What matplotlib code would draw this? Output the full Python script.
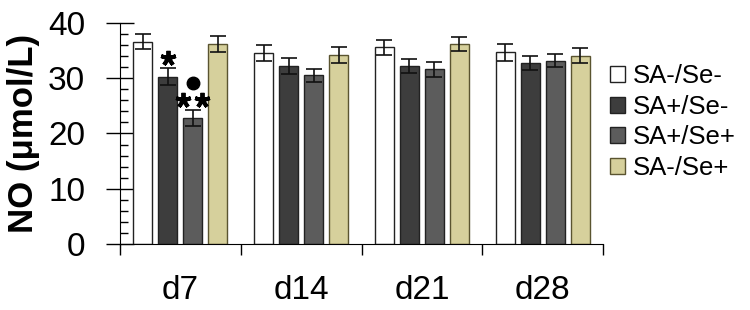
import numpy as np
import matplotlib.pyplot as plt

plt.rcParams.update({
    "font.family": ["Liberation Sans", "DejaVu Sans"],
})

days = ['d7', 'd14', 'd21', 'd28']
groups = ['SA-/Se-', 'SA+/Se-', 'SA+/Se+', 'SA-/Se+']
means = {
    'SA-/Se-': [36.6, 34.6, 35.6, 34.7],
    'SA+/Se-': [30.3, 32.2, 32.2, 32.7],
    'SA+/Se+': [22.8, 30.5, 31.6, 33.2],
    'SA-/Se+': [36.2, 34.2, 36.2, 34.1],
}
errs = {
    'SA-/Se-': [1.4, 1.4, 1.4, 1.5],
    'SA+/Se-': [1.6, 1.4, 1.3, 1.3],
    'SA+/Se+': [1.4, 1.2, 1.3, 1.2],
    'SA-/Se+': [1.4, 1.4, 1.2, 1.3],
}
colors = ['#ffffff', '#3d3d3d', '#5c5c5c', '#d6d09c']
edges = ['#222222', '#222222', '#222222', '#5a5430']

fig = plt.figure(figsize=(7.5, 3.1), dpi=100)
ax = fig.add_axes([0.16, 0.213, 0.644, 0.713])

x = np.arange(len(days))
w = 0.157
step = 0.207
for i, g in enumerate(groups):
    xs = x + (i - 1.5) * step
    ax.bar(xs, means[g], w, color=colors[i], edgecolor=edges[i], lw=1.0,
           label=g, zorder=2)
    ax.errorbar(xs, means[g], yerr=errs[g], fmt='none', ecolor='#111111',
                elinewidth=1.2, capsize=5.5, capthick=1.2, zorder=3)

# significance marks on d7
star = dict(marker=(5, 2, 0), ms=11, mew=2.8, color='black', ls='none',
            zorder=4)
d7_dark = x[0] - 0.5 * step
d7_mid = x[0] + 0.5 * step
y1 = means['SA+/Se-'][0] + errs['SA+/Se-'][0] + 1.8
ax.plot([d7_dark], [y1], **star)
y2 = means['SA+/Se+'][0] + errs['SA+/Se+'][0] + 1.8
ax.plot([d7_mid - 0.078, d7_mid + 0.078], [y2, y2], **star)
ax.plot([d7_mid], [y2 + 3.2], marker='o', ms=9, color='black', zorder=4)

ax.set_xlim(-0.5, 3.5)
ax.set_ylim(0, 40)
ax.set_xticks(np.arange(-0.5, 4, 1.0), [])
ax.set_xticks(x, days, minor=True)
ax.tick_params(axis='x', which='major', direction='out', length=8, width=1)
ax.tick_params(axis='x', which='minor', length=0, labelsize=24, pad=22)
ax.set_yticks(np.arange(0, 41, 10))
ax.set_yticks(np.arange(0, 41, 2), minor=True)
ax.tick_params(axis='y', which='major', direction='inout', length=20,
               width=1, labelsize=24, pad=15)
ax.tick_params(axis='y', which='minor', direction='in', length=6, width=1)
ax.set_ylabel('NO (μmol/L)', fontsize=25, fontweight='bold', labelpad=6)
for s in ['top', 'right']:
    ax.spines[s].set_visible(False)

ax.legend(loc='upper left', bbox_to_anchor=(610 / 750, 0.792),
          bbox_transform=fig.transFigure, frameon=False,
          fontsize=18.5, handlelength=0.58, handleheight=0.58,
          handletextpad=0.3, labelspacing=0.25, borderpad=0,
          borderaxespad=0)

fig.savefig('out.png')
